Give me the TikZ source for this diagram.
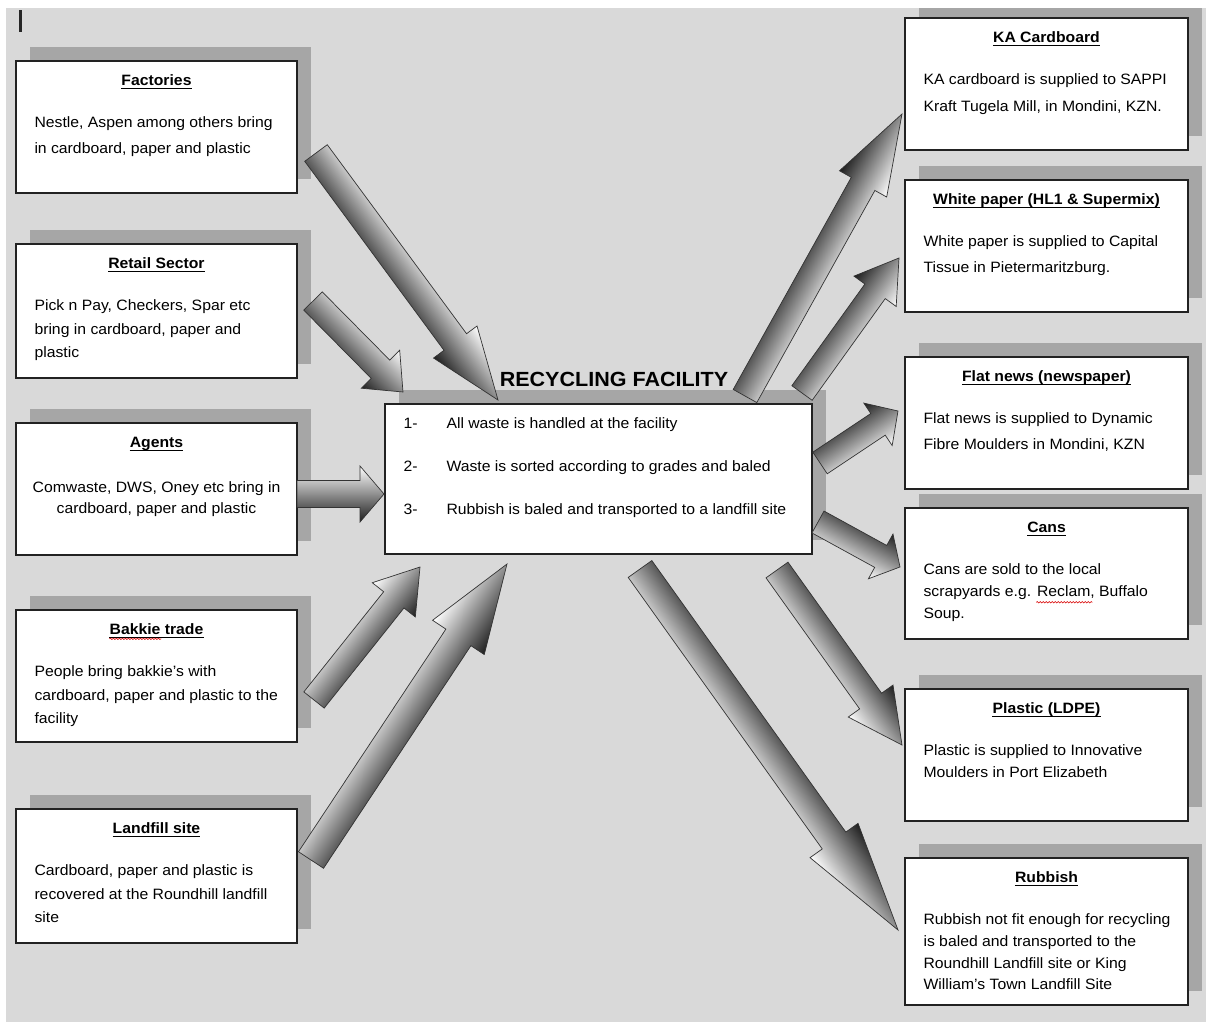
\documentclass[tikz,border=0pt]{standalone}
\usepackage{fontspec}
\setmainfont{Liberation Sans}[FakeStretch=1.05]
\usetikzlibrary{calc,shadows,decorations.pathmorphing}
\definecolor{bggray}{HTML}{D9D9D9}
\definecolor{shgray}{HTML}{A6A6A6}
\definecolor{dkarrow}{HTML}{1E1E1E}
\definecolor{boxline}{HTML}{222222}
% block arrow: tail coord, tip coord, shaft width, head width, head length, extra style
\newcommand{\blockarrow}[6]{%
  \pgfpointdiff{\pgfpointanchor{#1}{center}}{\pgfpointanchor{#2}{center}}%
  \pgfgetlastxy{\ddx}{\ddy}%
  \pgfmathsetmacro{\alen}{veclen(\ddx,\ddy)}%
  \pgfmathsetmacro{\aang}{atan2(\ddy,\ddx)}%
  \pgfmathsetmacro{\hs}{#3/2}%
  \pgfmathsetmacro{\hh}{#4/2}%
  \pgfmathsetmacro{\ab}{\alen-#5}%
  \begin{scope}[transform canvas={shift={(#1)},rotate=\aang}]
    \shade[blockarr,#6] (0,\hs) -- (\ab,\hs) -- (\ab,\hh) -- (\alen,0) -- (\ab,-\hh) -- (\ab,-\hs) -- (0,-\hs) -- cycle;
  \end{scope}}
\newcommand{\boxhead}[2]{%
  \node[heading] (#1-h) at ($(#1.north)+(0,25.5)$) {#2};
  \draw[line width=0.9pt] ($(#1-h.base west)+(0,2.6)$) -- ($(#1-h.base east)+(0,2.6)$);}
\newcommand{\boxbody}[3]{%
  \foreach \t [count=\i] in {#3}
    \node[bodytext] (#1-\i) at ($(#1.north west)+(19,{67.5+(\i-1)*#2})$) {\t};}
\begin{document}
\begin{tikzpicture}[x=1pt,y=-1pt,
  every node/.style={font=\fontsize{15}{18}\selectfont},
  box/.style={draw=boxline, line width=1.4pt, fill=white, inner sep=0pt,
    general shadow={fill=shgray, draw=none, shadow xshift=14pt, shadow yshift=14pt}},
  lbox/.style={box, minimum width=281pt},
  rbox/.style={box, minimum width=283pt},
  heading/.style={font=\fontsize{15}{18}\selectfont\bfseries, anchor=base, inner sep=0pt},
  bodytext/.style={anchor=base west, inner sep=0pt},
  blockarr/.style={draw=black!80, line width=0.7pt},
  lightccw/.style={top color=white, bottom color=dkarrow},
  darkccw/.style={top color=dkarrow, bottom color=white},
  spell/.style={draw=red!85!black, line width=0.6pt, decorate,
    decoration={snake, amplitude=0.7pt, segment length=3pt}}
]
\useasboundingbox (0,0) rectangle (1213,1025);
\fill[white] (0,0) rectangle (1213,1025);
\fill[bggray] (6,8) rectangle (1206,1022);
\fill[black!85] (19,10) rectangle (22,32);

% left column
\node[lbox, minimum height=132pt] (fac) at (156.5,127) {};
\node[lbox, minimum height=134pt] (ret) at (156.5,311) {};
\node[lbox, minimum height=132pt] (agt) at (156.5,489) {};
\node[lbox, minimum height=132pt] (bak) at (156.5,676) {};
\node[lbox, minimum height=134pt] (lan) at (156.5,876) {};
% right column
\node[rbox, minimum height=132pt] (ka)  at (1046.5,84) {};
\node[rbox, minimum height=132pt] (wp)  at (1046.5,246) {};
\node[rbox, minimum height=132pt] (fn)  at (1046.5,423) {};
\node[rbox, minimum height=131pt] (can) at (1046.5,573.5) {};
\node[rbox, minimum height=132pt] (pla) at (1046.5,755) {};
\node[rbox, minimum height=147pt] (rub) at (1046.5,931.5) {};
% centre
\node[box, minimum width=427pt, minimum height=150pt] (cen) at (598.5,479) {};
\node[font=\fontsize{20.5}{24}\selectfont\bfseries, anchor=base, inner sep=0pt] (title) at (614,386) {RECYCLING FACILITY};

\node[bodytext] (c1n) at ($(cen.north west)+(19,25)$) {1-};
\node[bodytext] (c1t) at ($(cen.north west)+(62,25)$) {All waste is handled at the facility};
\node[bodytext] (c2n) at ($(cen.north west)+(19,68)$) {2-};
\node[bodytext] (c2t) at ($(cen.north west)+(62,68)$) {Waste is sorted according to grades and baled};
\node[bodytext] (c3n) at ($(cen.north west)+(19,111)$) {3-};
\node[bodytext] (c3t) at ($(cen.north west)+(62,111)$) {Rubbish is baled and transported to a landfill site};

% headings and texts
\boxhead{fac}{Factories}
\boxbody{fac}{26}{{Nestle, Aspen among others bring},{in cardboard, paper and plastic}}
\boxhead{ret}{Retail Sector}
\boxbody{ret}{23.5}{{Pick n Pay, Checkers, Spar etc},{bring in cardboard, paper and},{plastic}}
\boxhead{agt}{Agents}
\node[anchor=base, inner sep=0pt] (agt-1) at ($(agt.north)+(0,70)$) {Comwaste, DWS, Oney etc bring in};
\node[anchor=base, inner sep=0pt] (agt-2) at ($(agt.north)+(0,91)$) {cardboard, paper and plastic};
\boxhead{bak}{Bakkie trade}
\boxbody{bak}{23.5}{{People bring bakkie’s with},{cardboard, paper and plastic to the},{facility}}
\boxhead{lan}{Landfill site}
\boxbody{lan}{23.5}{{Cardboard, paper and plastic is},{recovered at the Roundhill landfill},{site}}

\boxhead{ka}{KA Cardboard}
\boxbody{ka}{27}{{KA cardboard is supplied to SAPPI},{Kraft Tugela Mill, in Mondini, KZN.}}
\boxhead{wp}{White paper (HL1 \& Supermix)}
\boxbody{wp}{26}{{White paper is supplied to Capital},{Tissue in Pietermaritzburg.}}
\boxhead{fn}{Flat news (newspaper)}
\boxbody{fn}{26}{{Flat news is supplied to Dynamic},{Fibre Moulders in Mondini, KZN}}
\boxhead{can}{Cans}
\boxbody{can}{22}{{Cans are sold to the local},{scrapyards e.g. Reclam, Buffalo},{Soup.}}
\boxhead{pla}{Plastic (LDPE)}
\boxbody{pla}{22}{{Plastic is supplied to Innovative},{Moulders in Port Elizabeth}}
\boxhead{rub}{Rubbish}
\boxbody{rub}{21.7}{{Rubbish not fit enough for recycling},{is baled and transported to the},{Roundhill Landfill site or King},{William’s Town Landfill Site}}

% spell-check marks
\path[spell] ($(bak-h.base west)+(0,4)$) -- ++(52,0);
\path[spell] ($(can.north west)+(132,95)$) -- ++(56,0);

% arrow end points
\coordinate (a1s) at (316,153);  \coordinate (a1e) at (498,400);
\coordinate (a2s) at (313,301);  \coordinate (a2e) at (403,392);
\coordinate (a3s) at (297,494);  \coordinate (a3e) at (384,494);
\coordinate (a4s) at (314,700);  \coordinate (a4e) at (420,567);
\coordinate (a5s) at (311,860);  \coordinate (a5e) at (507,564);
\coordinate (a6s) at (745,396);  \coordinate (a6e) at (902,114);
\coordinate (a7s) at (802,393);  \coordinate (a7e) at (899,258);
\coordinate (a8s) at (820,463);  \coordinate (a8e) at (898,411);
\coordinate (a9s) at (818,522);  \coordinate (a9e) at (900,567);
\coordinate (a10s) at (777,570); \coordinate (a10e) at (902,745);
\coordinate (a11s) at (640,569); \coordinate (a11e) at (898,930);

\blockarrow{a1s}{a1e}{28}{54}{72}{lightccw}
\blockarrow{a2s}{a2e}{26}{54}{32}{lightccw}
\blockarrow{a3s}{a3e}{27}{56}{24}{lightccw}
\blockarrow{a4s}{a4e}{26}{55}{42}{lightccw}
\blockarrow{a5s}{a5e}{30}{62}{88}{lightccw}
\blockarrow{a6s}{a6e}{27}{54}{80}{darkccw}
\blockarrow{a7s}{a7e}{25}{52}{41}{darkccw}
\blockarrow{a8s}{a8e}{26}{51}{24}{darkccw}
\blockarrow{a9s}{a9e}{25}{51}{22}{darkccw}
\blockarrow{a10s}{a10e}{27}{55}{54}{darkccw}
\blockarrow{a11s}{a11e}{29}{59}{110}{darkccw}

% white page margin on top
\fill[white] (0,0) rectangle (1213,8);
\end{tikzpicture}
\end{document}
